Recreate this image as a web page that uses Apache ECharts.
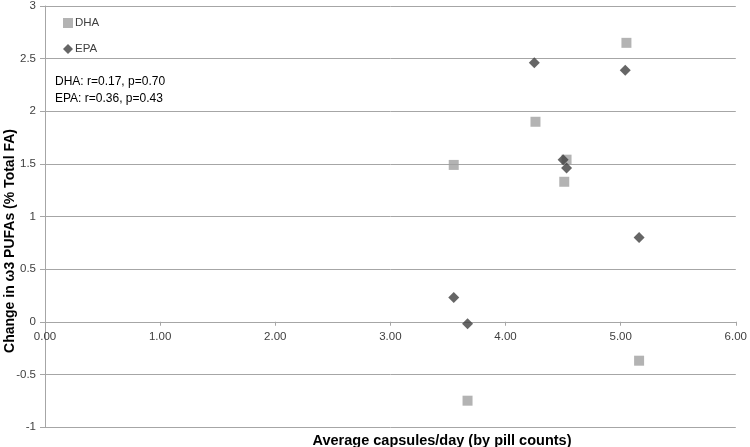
<!DOCTYPE html>
<html><head><meta charset="utf-8">
<script src="https://cdn.jsdelivr.net/npm/echarts@6/dist/echarts.min.js"></script>
<style>html,body{margin:0;padding:0;background:#fff}#c{width:750px;height:447px}</style>
</head><body><div id="c"></div>
<script>
const dhaX = [3.55, 3.67, 4.26, 4.53, 4.51, 5.05, 5.16];
const dhaY = [1.49, -0.75, 1.90, 1.54, 1.33, 2.65, -0.37];
const epaX = [3.55, 3.67, 4.25, 4.50, 4.53, 5.04, 5.16];
const epaY = [0.23, -0.02, 2.46, 1.54, 1.46, 2.39, 0.80];
const xTicks = [0, 1, 2, 3, 4, 5, 6];
const yTicks = [-1, -0.5, 0, 0.5, 1, 1.5, 2, 2.5, 3];
const statLines = ['DHA: r=0.17, p=0.70', 'EPA: r=0.36, p=0.43'];
const xTitle = 'Average capsules/day (by pill counts)';
const yTitle = 'Change in ω3 PUFAs (% Total FA)';

const font = 'Liberation Sans, Arial, sans-serif';
const chart = echarts.init(document.getElementById('c'));
chart.setOption({
  animation: false,
  grid: {left: 45, right: 11, top: 5, bottom: 20},
  legend: {
    left: 58, top: 12, orient: 'vertical', itemGap: 14,
    itemWidth: 10, itemHeight: 10,
    textStyle: {fontFamily: font, fontSize: 11.5, color: '#404040', padding: [0,0,0,-3]},
    data: [{name: 'DHA', icon: 'rect'}, {name: 'EPA', icon: 'diamond'}]
  },
  xAxis: {
    type: 'value', min: xTicks[0], max: xTicks[xTicks.length-1], interval: 1,
    axisLine: {show: true, onZero: true, onZeroAxisIndex: 0, lineStyle: {color: '#a6a6a6'}},
    axisTick: {show: true, length: 4, lineStyle: {color: '#a6a6a6'}},
    splitLine: {show: false},
    axisLabel: {formatter: v => v.toFixed(2), fontFamily: font, fontSize: 11.5, color: '#404040', margin: -96}
  },
  yAxis: {
    type: 'value', min: yTicks[0], max: yTicks[yTicks.length-1], interval: 0.5,
    axisLine: {show: true, onZero: false, lineStyle: {color: '#a6a6a6'}},
    axisTick: {show: true, length: 5, inside: false, lineStyle: {color: '#a6a6a6'}},
    splitLine: {show: true, lineStyle: {color: '#a6a6a6', width: 1}},
    axisLabel: {fontFamily: font, fontSize: 11.5, color: '#404040', margin: 9}
  },
  graphic: [
    {type: 'text', left: 55, top: 73, style: {text: statLines.join('\n'), font: '12px ' + font, fill: '#000', lineHeight: 17}},
    {type: 'text', x: 442, y: 441, style: {text: xTitle, font: 'bold 14.5px ' + font, fill: '#000', align: 'center', verticalAlign: 'middle'}},
    {type: 'text', x: 10, y: 241, rotation: Math.PI / 2, style: {text: yTitle, font: 'bold 14px ' + font, fill: '#000', align: 'center', verticalAlign: 'middle'}}
  ],
  series: [
    {name: 'DHA', type: 'scatter', symbol: 'rect', symbolSize: 10,
     itemStyle: {color: '#a0a0a0'}, data: dhaX.map((x, i) => [x, dhaY[i]])},
    {name: 'EPA', type: 'scatter', symbol: 'diamond', symbolSize: 11,
     itemStyle: {color: '#404040'}, data: epaX.map((x, i) => [x, epaY[i]])}
  ]
});
</script></body></html>
